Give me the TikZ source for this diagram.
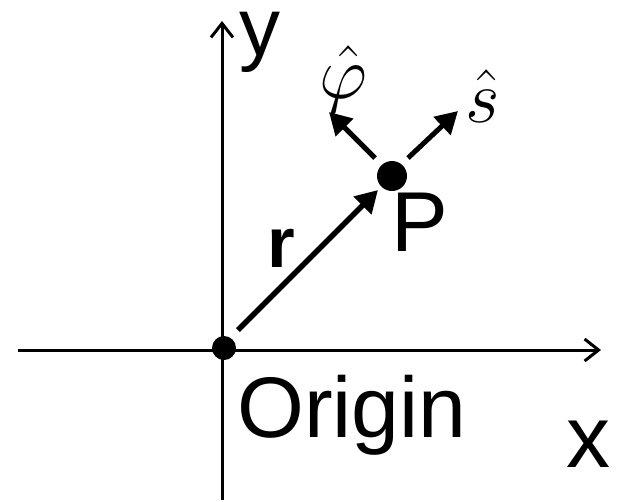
\documentclass[tikz,border=0pt]{standalone}
\usepackage{graphicx}
\usepackage{fontspec}
\setmainfont{Liberation Sans}
\usetikzlibrary{arrows.meta}
\begin{document}
\begin{tikzpicture}[x=1pt,y=-1pt,
  axis/.style={line width=3pt,-{Straight Barb[length=14pt,width=22pt,line width=3pt]}},
  vec/.style={line width=5.5pt,-{Triangle[length=22pt,width=24pt]}},
  dotnode/.style={circle,fill=black,inner sep=0pt},
  lbl/.style={inner sep=0pt}]
\useasboundingbox (0,0) rectangle (628,501);
\coordinate (xs) at (18,350);
\coordinate (xe) at (601,350);
\coordinate (ys) at (222,500);
\coordinate (ye) at (222,21);
\draw[axis] (xs) -- (xe);
\draw[axis] (ys) -- (ye);
\node[dotnode,minimum size=24pt] (O) at (224,348) {};
\node[dotnode,minimum size=30pt] (P) at (392,176) {};
\coordinate (rs) at (238,330);
\coordinate (rt) at (378,190);
\draw[vec] (rs) -- (rt);
\coordinate (ss) at (408,158);
\coordinate (st) at (458,111);
\draw[vec,line width=5pt] (ss) -- (st);
\coordinate (ps) at (375,158);
\coordinate (pt) at (329,112);
\draw[vec,line width=5pt] (ps) -- (pt);
\node[lbl,anchor=base west,font=\fontsize{82}{90}\selectfont] (ylab) at (239,55) {y};
\node[lbl,anchor=base west,font=\fontsize{88}{90}\selectfont] (xlab) at (566,467) {x};
\node[lbl,anchor=base west,font=\fontsize{86}{90}\selectfont] (orig) at (237,437) {Origin};
\node[lbl,anchor=base west,font=\fontsize{85}{90}\selectfont] (plab) at (391,251) {P};
\node[lbl,anchor=base west,font=\fontsize{71}{75}\selectfont\bfseries] (rlab) at (267,267) {r};
\node[lbl,anchor=base,font=\fontsize{24}{28}\selectfont] (phlab) at (343,98) {\scalebox{3}{$\hat{\varphi}$}};
\node[lbl,anchor=base west,font=\fontsize{24}{28}\selectfont] (shlab) at (465,122) {\scalebox{3}{$\hat{s}$}};
\end{tikzpicture}
\end{document}
